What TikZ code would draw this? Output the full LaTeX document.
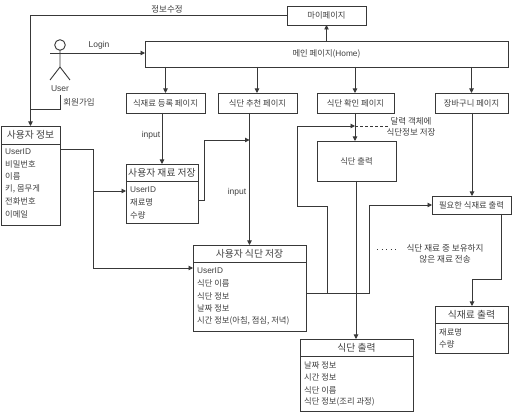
\documentclass[tikz,border=0pt]{standalone}
\usepackage{fontspec}
\setmainfont{Noto Sans CJK KR}
\newfontfamily\lat{Liberation Sans}
\usetikzlibrary{arrows.meta}
\definecolor{ink}{gray}{0.22}
\definecolor{txt}{gray}{0.25}
\tikzset{
  x=1pt,y=-1pt,
  every node/.style={text=txt,font=\fontsize{8.3}{10}\selectfont},
  wire/.style={draw=ink,line width=0.9pt,-{Triangle[length=4.5pt,width=4.5pt]}},
  plain/.style={draw=ink,line width=0.9pt},
  dash wire/.style={draw=ink,line width=0.8pt,densely dashed},
  boxed/.style={draw=ink,line width=0.9pt,inner sep=0pt,outer sep=0pt},
  head/.style={font=\fontsize{9.8}{11}\selectfont,inner sep=0pt},
  row/.style={anchor=west,inner sep=0pt},
  lab/.style={inner sep=0pt,align=center,font=\fontsize{8.5}{11}\selectfont},
}
% name, x1, y1, x2, y2, text
\newcommand{\bx}[6]{%
  \pgfmathsetmacro{\cxx}{(#2+#4)/2}\pgfmathsetmacro{\cyy}{(#3+#5)/2}%
  \pgfmathsetmacro{\ww}{#4-#2}\pgfmathsetmacro{\hh}{#5-#3}%
  \node[boxed,minimum width=\ww pt,minimum height=\hh pt] (#1) at (\cxx,\cyy) {#6};}
\begin{document}
\begin{tikzpicture}
\useasboundingbox (0,0) rectangle (512,414);
\fill[white] (0,0) rectangle (512,414);
% page boxes
\bx{my}{287}{6}{366}{25}{마이페이지}
\bx{main}{145}{41}{508}{67}{메인 페이지({\lat Home})}
\bx{reg}{126}{93}{205}{113}{식재료 등록 페이지}
\bx{rec}{218}{93}{297}{113}{식단 추천 페이지}
\bx{chk}{317}{93}{394}{113}{식단 확인 페이지}
\bx{cart}{435}{93}{508}{113}{장바구니 페이지}
\bx{out}{317}{141}{396}{181}{식단 출력}
\bx{need}{432}{196}{511}{214}{필요한 식재료 출력}
% tables
\bx{tu}{1}{126}{60}{225}{}
\bx{tm}{126}{164}{198}{223}{}
\bx{td}{193}{245}{306}{331}{}
\bx{to}{300}{339}{413}{411}{}
\bx{ti}{435}{306}{508}{353}{}
\draw[plain] (1,144) -- (60,144);
\draw[plain] (126,181) -- (198,181);
\draw[plain] (193,262) -- (306,262);
\draw[plain] (300,356) -- (413,356);
\draw[plain] (435,323) -- (508,323);
\node[head] (hu) at (30.5,135) {사용자 정보};
\node[head] (hm) at (162,173) {사용자 재료 저장};
\node[head] (hd) at (249.5,254) {사용자 식단 저장};
\node[head] (ho) at (356.5,348) {식단 출력};
\node[head] (hi) at (471.5,315) {식재료 출력};
\node[row] (u1) at (5,152) {\lat UserID};
\node[row] (u2) at (5,164) {비밀번호};
\node[row] (u3) at (5,176) {이름};
\node[row] (u4) at (5,189) {키, 몸무게};
\node[row] (u5) at (5,201) {전화번호};
\node[row] (u6) at (5,214) {이메일};
\node[row] (m1) at (130,190) {\lat UserID};
\node[row] (m2) at (130,202) {재료명};
\node[row] (m3) at (130,215) {수량};
\node[row] (d1) at (197,271) {\lat UserID};
\node[row] (d2) at (197,283) {식단 이름};
\node[row] (d3) at (197,296) {식단 정보};
\node[row] (d4) at (197,308) {날짜 정보};
\node[row] (d5) at (197,321) {시간 정보(아침, 점심, 저녁)};
\node[row] (o1) at (304,365) {날짜 정보};
\node[row] (o2) at (304,377) {시간 정보};
\node[row] (o3) at (304,390) {식단 이름};
\node[row] (o4) at (304,402) {식단 정보(조리 과정)};
\node[row] (i1) at (439,332) {재료명};
\node[row] (i2) at (439,344) {수량};
% actor
\draw[plain] (60,45) circle (5.3);
\draw[plain] (60,50.3) -- (60,67) (50,80) -- (60,67) -- (70,80);
\coordinate (armL) at (50,53);
\coordinate (actorB) at (60,95);
% labels
\node[lab] (lUser) at (60,89) {\lat User};
\node[lab] (lJoin) at (79,102.5) {회원가입};
\node[lab] (lEdit) at (167,9.5) {정보수정};
\node[lab] (lLogin) at (99,45) {\lat Login};
\node[lab] (lIn1) at (151,135) {\lat input};
\node[lab] (lIn2) at (237,192) {\lat input};
\node[lab] (lCal) at (411,127) {달력 객체에\\식단정보 저장};
\node[lab,font=\fontsize{8.6}{10.5}\selectfont] (lSend) at (445,254) {식단 재료 중 보유하지\\않은 재료 전송};
\coordinate (dotA) at (377,250);
\coordinate (dotB) at (398,250);
\draw[ink,line width=1pt,dash pattern=on 1pt off 3.5pt] (dotA) -- (dotB);
% connectors
\draw[wire] (my.west) -- (30.5,15.5) -- (tu.north);
\draw[plain] (actorB) -- (60,109) -- (30.5,109);
\draw[wire] (armL) -- (main.west |- armL);
\draw[wire] (my.south |- main.north) -- (my.south);
\draw[wire] (reg.north |- main.south) -- (reg.north);
\draw[wire] (rec.north |- main.south) ++(-0.5,0) -- ++(0,26);
\draw[wire] (355,67) -- (355,93);
\draw[wire] (cart.north |- main.south) -- (cart.north);
\draw[wire] (tm.north |- reg.south) -- (tm.north);
\draw[wire] (td.north |- rec.south) -- (td.north);
\draw[wire] (355,113) -- (355,141);
\coordinate (jr) at (204,200);
\draw[wire] (198,200) -- (jr) -- (204,140) -- (249.5,140);
\draw[wire] (60,149) -- (93,149) -- (93,268) -- (193,268);
\draw[wire] (93,191) -- (126,191);
\draw[wire] (306,293) -- (327,293) -- (327,206) -- (297,206) -- (297,126) -- (355,126);
\draw[wire] (306,293) -- (369,293) -- (369,205) -- (432,205);
\draw[dash wire] (355,126) -- (388,126);
\draw[wire] (356,181) -- (356,339);
\draw[wire] (472,113) -- (472,196);
\draw[wire] (501,214) -- (501,279) -- (472,279) -- (472,306);
\end{tikzpicture}
\end{document}
